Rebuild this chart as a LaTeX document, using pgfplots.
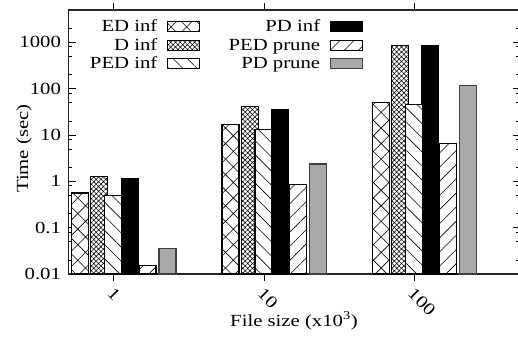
\documentclass[border=0pt]{standalone}
\usepackage{fontspec}
\setmainfont{Liberation Serif}[FakeStretch=1.22]
\usepackage{pgfplots}
\pgfplotsset{compat=1.18}
\usetikzlibrary{patterns.meta}
\definecolor{pdprune}{RGB}{168,168,168}
\pgfplotsset{
  myleg/.style={legend image code/.code={\draw[##1] (0pt,-5pt) rectangle (32pt,5pt);}},
  mybar/.style={ybar, bar width=0.113, draw=black, line width=1.2pt, myleg},
}
\begin{document}
\begin{tikzpicture}
\begin{axis}[
  scale only axis, width=451pt, height=264pt,
  xmin=-0.3, xmax=2.7,
  ymode=log, ymin=0.01, ymax=5000, log origin y=infty,
  xtick={0,1,2}, xticklabels={1,10,100},
  ytick={0.01,0.1,1,10,100,1000}, yticklabels={0.01,0.1,1,10,100,1000},
  minor ytick={0.02,0.05,0.08,0.2,0.5,0.8,2,5,8,20,50,80,200,500,800,2000},
  xtick align=outside, ytick align=inside,
  major tick length=7pt, minor tick length=4pt,
  tick style={black, line width=0.8pt},
  axis line style={line width=1.1pt, black!85},
  font=\fontsize{17}{20}\selectfont,
  /pgf/number format/assume math mode=true,
  yticklabel style={xshift=-4pt},
  xticklabel style={rotate=-45, anchor=north west, xshift=1pt},
  xlabel={File size (x10\textsuperscript{3})},
  xlabel style={at={(axis description cs:0.5,0)}, anchor=base, yshift=-52pt},
  ylabel={Time (sec)},
  ylabel style={at={(axis description cs:-0.0898,0.475)}, anchor=base},
  legend columns=2, legend plot pos=right, legend cell align=right,
  legend style={at={(axis description cs:0.035,0.98)}, anchor=north west, draw=none, fill=none,
    row sep=0pt, nodes={inner sep=2.5pt},
    /tikz/every odd column/.append style={column sep=7pt},
    /tikz/every even column/.append style={column sep=26pt}},
]
\coordinate (ll) at (rel axis cs:0,0);
\coordinate (ur) at (rel axis cs:1,1);
% ED inf
\addplot[mybar, bar shift=-0.222, fill=white, postaction={pattern={Hatch[angle=45,distance=11pt,line width=0.6pt]}}]
  coordinates {(0,0.56) (1,17) (2,49.5)};
\addlegendentry{ED inf}
% PD inf
\addplot[mybar, bar shift=0.107, fill=black]
  coordinates {(0,1.14) (1,36) (2,832)};
\addlegendentry{PD inf}
% D inf
\addplot[mybar, bar shift=-0.095, fill=white, postaction={pattern={Hatch[angle=45,distance=3.4pt,line width=0.55pt]}}]
  coordinates {(0,1.28) (1,40.6) (2,848)};
\addlegendentry{D inf}
% PED prune
\addplot[mybar, bar shift=0.225, fill=white, postaction={pattern={Lines[angle=45,distance=10pt,line width=0.6pt]}}]
  coordinates {(0,0.015) (1,0.87) (2,6.5)};
\addlegendentry{PED prune}
% PED inf
\addplot[mybar, bar shift=-0.003, fill=white, postaction={pattern={Lines[angle=-45,distance=10pt,line width=0.6pt]}}]
  coordinates {(0,0.50) (1,13.3) (2,46)};
\addlegendentry{PED inf}
% PD prune
\addplot[mybar, bar shift=0.359, fill=pdprune, draw=black!75]
  coordinates {(0,0.035) (1,2.37) (2,117)};
\addlegendentry{PD prune}
\end{axis}
\pgfresetboundingbox
\useasboundingbox ([shift={(-68.5pt,-64pt)}]ll) rectangle ([shift={(-1.5pt,10pt)}]ur);
\end{tikzpicture}
\end{document}
